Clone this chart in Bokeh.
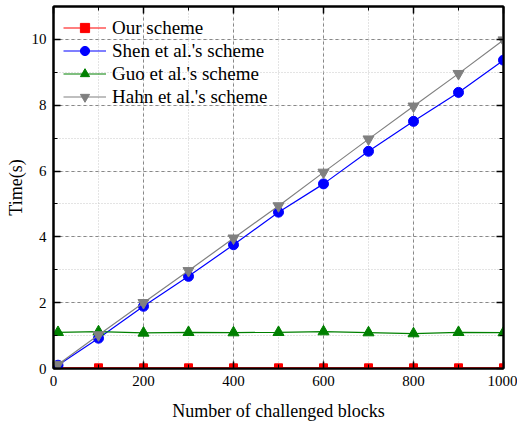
from bokeh.plotting import figure
from bokeh.models import LinearAxis, SingleIntervalTicker, Range1d, Legend, LegendItem, CustomJSTickFormatter
from bokeh.embed import file_html
from bokeh.resources import INLINE

blocks = [10, 100, 200, 300, 400, 500, 600, 700, 800, 900, 1000]
ours = [0.02, 0.02, 0.02, 0.02, 0.02, 0.02, 0.02, 0.02, 0.02, 0.02, 0.02]
shen = [0.10, 0.92, 1.89, 2.80, 3.76, 4.75, 5.61, 6.60, 7.51, 8.39, 9.37]
guo = [1.10, 1.12, 1.08, 1.10, 1.09, 1.10, 1.12, 1.09, 1.06, 1.10, 1.09]
hahn = [0.12, 1.02, 2.00, 2.97, 3.96, 4.94, 5.96, 6.97, 7.97, 8.96, 9.98]

labels = ["Our scheme", "Shen et al.'s scheme", "Guo et al.'s scheme", "Hahn et al.'s scheme"]
FONT = "Liberation Serif"

p = figure(width=517, height=424, output_backend="svg", toolbar_location=None,
           x_range=Range1d(0, 1000), y_range=Range1d(0, 11),
           min_border_left=53, min_border_right=14, min_border_top=6, min_border_bottom=56,
           x_axis_label="Number of challenged blocks", y_axis_label="Time(s)")
p.background_fill_color = "white"
p.border_fill_color = "white"
p.outline_line_color = "black"
p.outline_line_width = 2

xt = SingleIntervalTicker(interval=200, num_minor_ticks=2)
yt = SingleIntervalTicker(interval=2, num_minor_ticks=2)
p.xaxis.ticker = xt
p.yaxis.ticker = yt

for ax in [p.xaxis[0], p.yaxis[0]]:
    ax.axis_line_color = "black"
    ax.axis_line_width = 2
    ax.major_tick_in = 7
    ax.major_tick_out = 0
    ax.minor_tick_in = 4
    ax.minor_tick_out = 0
    ax.major_tick_line_width = 1.5
    ax.major_label_text_font = FONT
    ax.major_label_text_font_size = "15px"
    ax.major_label_text_color = "black"
    ax.axis_label_text_font = FONT
    ax.axis_label_text_font_size = "18px"
    ax.axis_label_text_font_style = "normal"
    ax.axis_label_text_color = "black"
p.xaxis.major_label_standoff = 7
p.xaxis.axis_label_standoff = 12
p.yaxis.major_label_standoff = 7
p.yaxis.axis_label_standoff = 3

for loc, tk in [("right", yt), ("above", xt)]:
    ax = LinearAxis(ticker=tk, formatter=CustomJSTickFormatter(code="return ''"))
    ax.major_label_standoff = 0
    ax.axis_line_width = 2
    ax.major_tick_in = 7
    ax.major_tick_out = 0
    ax.minor_tick_in = 4
    ax.minor_tick_out = 0
    ax.major_tick_line_width = 1.5
    p.add_layout(ax, loc)

p.xgrid.grid_line_color = "#888888"
p.xgrid.grid_line_dash = "3 3"
p.xgrid.minor_grid_line_color = "#c8c8c8"
p.xgrid.minor_grid_line_dash = "1 2"
p.ygrid.grid_line_color = "#888888"
p.ygrid.grid_line_dash = "3 3"
p.ygrid.minor_grid_line_color = "#c8c8c8"
p.ygrid.minor_grid_line_dash = "1 2"

l1 = p.line(blocks, ours, line_color="red", line_width=1.2)
m1 = p.scatter(blocks, ours, marker="square", size=8, color="red")
l2 = p.line(blocks, shen, line_color="blue", line_width=1.2)
m2 = p.scatter(blocks, shen, marker="circle", size=10, color="blue")
l3 = p.line(blocks, guo, line_color="green", line_width=1.2)
m3 = p.scatter(blocks, guo, marker="triangle", size=11, color="green")
l4 = p.line(blocks, hahn, line_color="gray", line_width=1.2)
m4 = p.scatter(blocks, hahn, marker="inverted_triangle", size=11, color="gray")

legend = Legend(items=[
    LegendItem(label=labels[0], renderers=[l1, m1]),
    LegendItem(label=labels[1], renderers=[l2, m2]),
    LegendItem(label=labels[2], renderers=[l3, m3]),
    LegendItem(label=labels[3], renderers=[l4, m4]),
], location="top_left")
legend.background_fill_alpha = 0
legend.border_line_alpha = 0
legend.margin = 0
legend.padding = 10
legend.spacing = 0
legend.label_height = 23
legend.glyph_height = 23
legend.glyph_width = 43
legend.label_standoff = 6
legend.label_text_font = FONT
legend.label_text_font_size = "19px"
legend.label_text_color = "black"
p.add_layout(legend, "center")

open("out.html", "w").write(file_html(p, INLINE))
